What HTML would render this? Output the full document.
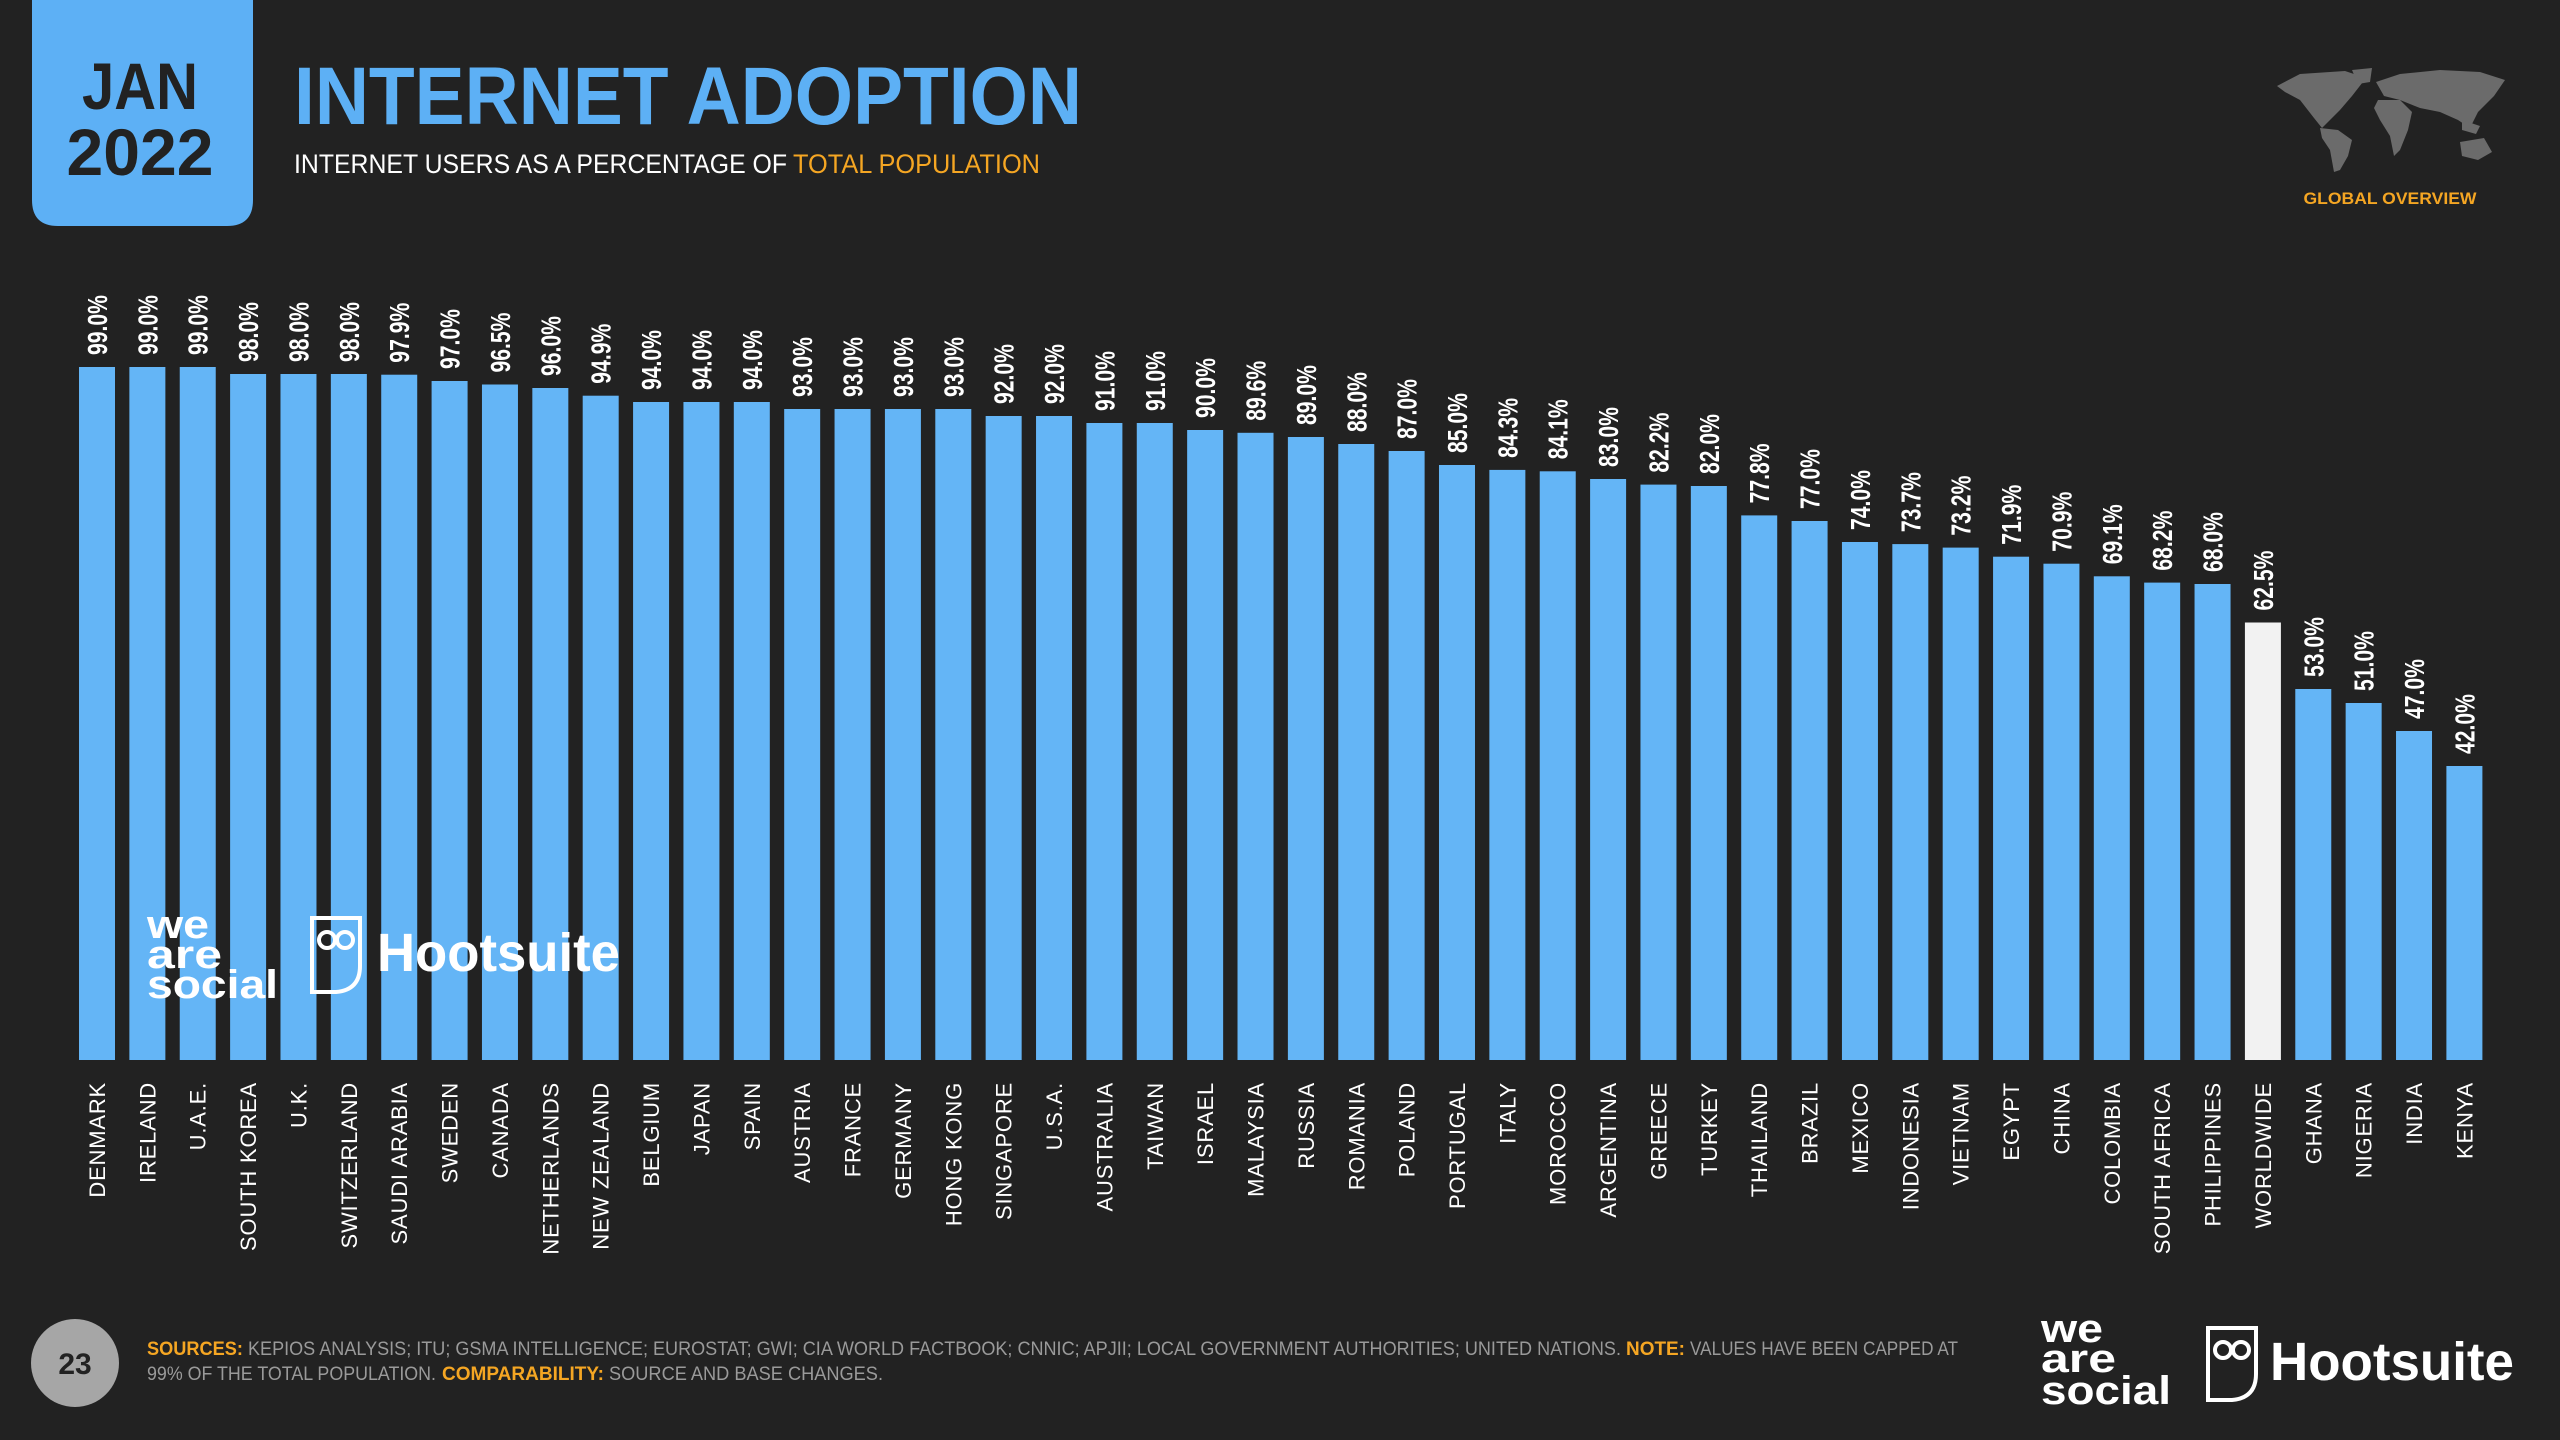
<!DOCTYPE html>
<html><head><meta charset="utf-8">
<style>
html,body{margin:0;padding:0;background:#222222;}
svg{display:block;font-family:"Liberation Sans",sans-serif;}
</style></head>
<body>
<svg id="chart" width="2560" height="1440" viewBox="0 0 2560 1440" xmlns="http://www.w3.org/2000/svg">
<rect width="2560" height="1440" fill="#222222"/>
<g>
<path d="M32,0 H253 V200 Q253,226 227,226 H58 Q32,226 32,200 Z" fill="#5db0f5"/>
<text x="140" y="109" text-anchor="middle" font-size="66" font-weight="bold" fill="#222" textLength="116" lengthAdjust="spacingAndGlyphs">JAN</text>
<text x="140" y="175" text-anchor="middle" font-size="66" font-weight="bold" fill="#222" textLength="147" lengthAdjust="spacingAndGlyphs">2022</text>
</g>
<text x="294" y="124" font-size="82" font-weight="bold" fill="#5db0f5" textLength="788" lengthAdjust="spacingAndGlyphs">INTERNET ADOPTION</text>
<g>
<text x="294" y="173" font-size="27" fill="#ffffff" textLength="493" lengthAdjust="spacingAndGlyphs" font-weight="300">INTERNET USERS AS A PERCENTAGE OF</text>
<text x="793" y="173" font-size="27" fill="#f5a623" textLength="247" lengthAdjust="spacingAndGlyphs">TOTAL POPULATION</text>
</g>
<g fill="#6b6b6b">
<path d="M2277,86 L2300,74 L2345,71 L2366,78 L2352,96 L2340,110 L2330,120 L2322,128 L2314,118 L2300,100 L2285,92 Z"/>
<path d="M2352,70 L2372,68 L2370,82 L2358,84 Z"/>
<path d="M2320,128 L2338,130 L2352,140 L2348,156 L2340,170 L2334,172 L2330,150 L2322,138 Z"/>
<path d="M2376,82 L2400,74 L2440,70 L2480,72 L2505,80 L2494,96 L2478,112 L2470,128 L2458,120 L2440,112 L2420,108 L2400,100 L2384,96 Z"/>
<path d="M2378,100 L2400,100 L2412,112 L2408,130 L2400,150 L2394,156 L2390,136 L2380,120 L2374,108 Z"/>
<path d="M2460,142 L2484,138 L2492,152 L2478,160 L2462,156 Z"/>
<path d="M2462,120 L2480,126 L2476,134 L2462,130 Z"/>
</g>
<text x="2390" y="204" text-anchor="middle" font-size="17" font-weight="bold" fill="#f5a623" textLength="173" lengthAdjust="spacingAndGlyphs">GLOBAL OVERVIEW</text>

<g id="bars"></g>
<g id="values"></g>
<g id="cats"></g>

<g fill="#ffffff" font-weight="bold" font-size="40">
<text x="147" y="938" textLength="62" lengthAdjust="spacingAndGlyphs">we</text>
<text x="147" y="968" textLength="75" lengthAdjust="spacingAndGlyphs">are</text>
<text x="147" y="998" textLength="131" lengthAdjust="spacingAndGlyphs">social</text>
</g>
<g>
<path d="M312,918 L360,918 L360,966 Q360,990 336,992 L312,992 Z" fill="none" stroke="#fff" stroke-width="4"/>
<circle cx="327" cy="940" r="8" fill="none" stroke="#fff" stroke-width="4"/>
<circle cx="345" cy="940" r="8" fill="none" stroke="#fff" stroke-width="4"/>
<text x="377" y="971" font-size="54" font-weight="bold" fill="#fff" textLength="243" lengthAdjust="spacingAndGlyphs">Hootsuite</text>
</g>

<g>
<circle cx="75" cy="1363" r="44" fill="#a6a6a6"/>
<text x="75" y="1374" text-anchor="middle" font-size="30" font-weight="bold" fill="#222">23</text>
</g>
<g font-size="19">
<text x="147" y="1355" fill="#f5a623" font-weight="bold" textLength="96" lengthAdjust="spacingAndGlyphs">SOURCES:</text>
<text x="248" y="1355" fill="#9a9a9a" textLength="1373" lengthAdjust="spacingAndGlyphs">KEPIOS ANALYSIS; ITU; GSMA INTELLIGENCE; EUROSTAT; GWI; CIA WORLD FACTBOOK; CNNIC; APJII; LOCAL GOVERNMENT AUTHORITIES; UNITED NATIONS.</text>
<text x="1626" y="1355" fill="#f5a623" font-weight="bold" textLength="59" lengthAdjust="spacingAndGlyphs">NOTE:</text>
<text x="1690" y="1355" fill="#9a9a9a" textLength="268" lengthAdjust="spacingAndGlyphs">VALUES HAVE BEEN CAPPED AT</text>
<text x="147" y="1380" fill="#9a9a9a" textLength="289" lengthAdjust="spacingAndGlyphs">99% OF THE TOTAL POPULATION.</text>
<text x="442" y="1380" fill="#f5a623" font-weight="bold" textLength="162" lengthAdjust="spacingAndGlyphs">COMPARABILITY:</text>
<text x="609" y="1380" fill="#9a9a9a" textLength="274" lengthAdjust="spacingAndGlyphs">SOURCE AND BASE CHANGES.</text>
</g>
<g fill="#ffffff" font-weight="bold" font-size="40">
<text x="2041" y="1342" textLength="62" lengthAdjust="spacingAndGlyphs">we</text>
<text x="2041" y="1372" textLength="75" lengthAdjust="spacingAndGlyphs">are</text>
<text x="2041" y="1404" textLength="130" lengthAdjust="spacingAndGlyphs">social</text>
</g>
<g>
<path d="M2208,1328 L2256,1328 L2256,1374 Q2256,1398 2232,1400 L2208,1400 Z" fill="none" stroke="#fff" stroke-width="4"/>
<circle cx="2223" cy="1350" r="8" fill="none" stroke="#fff" stroke-width="4"/>
<circle cx="2241" cy="1350" r="8" fill="none" stroke="#fff" stroke-width="4"/>
<text x="2270" y="1380" font-size="54" font-weight="bold" fill="#fff" textLength="244" lengthAdjust="spacingAndGlyphs">Hootsuite</text>
</g>
</svg>
<script>
const categories = ["DENMARK","IRELAND","U.A.E.","SOUTH KOREA","U.K.","SWITZERLAND","SAUDI ARABIA","SWEDEN","CANADA","NETHERLANDS","NEW ZEALAND","BELGIUM","JAPAN","SPAIN","AUSTRIA","FRANCE","GERMANY","HONG KONG","SINGAPORE","U.S.A.","AUSTRALIA","TAIWAN","ISRAEL","MALAYSIA","RUSSIA","ROMANIA","POLAND","PORTUGAL","ITALY","MOROCCO","ARGENTINA","GREECE","TURKEY","THAILAND","BRAZIL","MEXICO","INDONESIA","VIETNAM","EGYPT","CHINA","COLOMBIA","SOUTH AFRICA","PHILIPPINES","WORLDWIDE","GHANA","NIGERIA","INDIA","KENYA"];
const values = [99.0,99.0,99.0,98.0,98.0,98.0,97.9,97.0,96.5,96.0,94.9,94.0,94.0,94.0,93.0,93.0,93.0,93.0,92.0,92.0,91.0,91.0,90.0,89.6,89.0,88.0,87.0,85.0,84.3,84.1,83.0,82.2,82.0,77.8,77.0,74.0,73.7,73.2,71.9,70.9,69.1,68.2,68.0,62.5,53.0,51.0,47.0,42.0];
const valueLabels = values.map(v => v.toFixed(1) + "%");
const highlight = "WORLDWIDE";

const NS = "http://www.w3.org/2000/svg";
const baseY = 1060, pxPer = 7.0, x0 = 79, pitch = 50.37, bw = 36;
const xPos = i => x0 + i * pitch;
const yPos = v => baseY - v * pxPer;
const gB = document.getElementById('bars'), gV = document.getElementById('values'), gC = document.getElementById('cats');
categories.forEach((c, i) => {
  const v = values[i];
  const r = document.createElementNS(NS, 'rect');
  r.setAttribute('x', xPos(i)); r.setAttribute('y', yPos(v));
  r.setAttribute('width', bw); r.setAttribute('height', baseY - yPos(v));
  r.setAttribute('fill', c === highlight ? '#f2f2f2' : '#64b5f6');
  
  
  gB.appendChild(r);
  const cx = xPos(i) + bw / 2;
  const t = document.createElementNS(NS, 'text');
  const ty = yPos(v) - 12;
  t.setAttribute('transform', `translate(${cx + 10},${ty}) rotate(-90)`);
  t.setAttribute('font-size', '28'); t.setAttribute('font-weight', 'bold');
  t.setAttribute('fill', '#ffffff');
  t.setAttribute('textLength', '60'); t.setAttribute('lengthAdjust', 'spacingAndGlyphs');
  t.textContent = valueLabels[i];
  
  
  gV.appendChild(t);
  const l = document.createElementNS(NS, 'text');
  l.setAttribute('transform', `translate(${cx + 8},1082) rotate(-90)`);
  l.setAttribute('text-anchor', 'end');
  l.setAttribute('font-size', '22'); l.setAttribute('fill', '#ffffff');
  l.setAttribute('letter-spacing', '0.8');
  l.textContent = c;
  
  
  gC.appendChild(l);
});
</script>
</body></html>
